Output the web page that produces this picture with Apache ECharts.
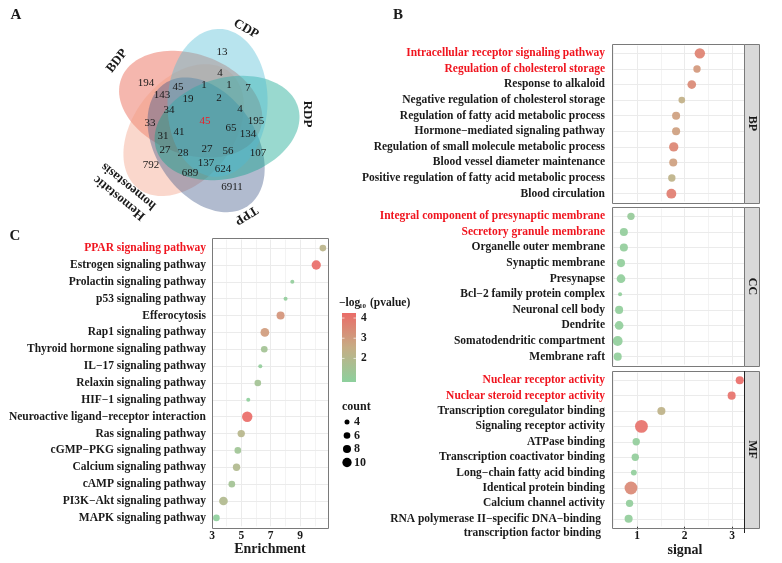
<!DOCTYPE html>
<html><head><meta charset="utf-8">
<script src="https://cdn.jsdelivr.net/npm/echarts@6/dist/echarts.min.js"></script>
<style>html,body{margin:0;padding:0;background:#fff}#main{width:782px;height:563px}</style>
</head><body><div id="main"></div>
<script>
// ---------------- DATA ----------------
// Panel C: KEGG enrichment (top to bottom)
const keggTerms = ['PPAR signaling pathway','Estrogen signaling pathway','Prolactin signaling pathway','p53 signaling pathway','Efferocytosis','Rap1 signaling pathway','Thyroid hormone signaling pathway','IL\u221217 signaling pathway','Relaxin signaling pathway','HIF\u22121 signaling pathway','Neuroactive ligand\u2212receptor interaction','Ras signaling pathway','cGMP\u2212PKG signaling pathway','Calcium signaling pathway','cAMP signaling pathway','PI3K\u2212Akt signaling pathway','MAPK signaling pathway'];
const keggEnrichment = [10.55,10.1,8.47,8.01,7.67,6.6,6.56,6.29,6.12,5.47,5.4,4.99,4.76,4.67,4.35,3.78,3.3];
const keggCount = [6,10,3,3,8,9,6,3,6,3,12,7,6,7,6,9,6];
const keggLogP = [2.2,4.2,1.0,1.0,3.2,3.0,1.5,1.0,1.5,0.9,4.25,2.1,1.4,1.9,1.5,1.9,0.9];

// Panel B: GO terms
const bpTerms = ['Intracellular receptor signaling pathway','Regulation of cholesterol storage','Response to alkaloid','Negative regulation of cholesterol storage','Regulation of fatty acid metabolic process','Hormone\u2212mediated signaling pathway','Regulation of small molecule metabolic process','Blood vessel diameter maintenance','Positive regulation of fatty acid metabolic process','Blood circulation'];
const bpSignal = [2.32,2.26,2.15,1.94,1.82,1.82,1.77,1.76,1.73,1.72];
const bpCount = [12,7,9,6,8,8,10,8,7,11];
const bpLogP = [3.7,3.1,3.5,2.4,2.9,2.9,3.6,2.9,2.3,3.8];

const ccTerms = ['Integral component of presynaptic membrane','Secretory granule membrane','Organelle outer membrane','Synaptic membrane','Presynapse','Bcl\u22122 family protein complex','Neuronal cell body','Dendrite','Somatodendritic compartment','Membrane raft'];
const ccSignal = [0.87,0.72,0.72,0.66,0.66,0.64,0.62,0.62,0.59,0.59];
const ccCount = [7,8,8,8,9,3,8,9,11,8];
const ccLogP = [1.1,1.0,1.0,0.95,0.95,0.95,0.95,0.95,0.95,0.95];

const mfTerms = ['Nuclear receptor activity','Nuclear steroid receptor activity','Transcription coregulator binding','Signaling receptor activity','ATPase binding','Transcription coactivator binding','Long\u2212chain fatty acid binding','Identical protein binding','Calcium channel activity','RNA polymerase II\u2212specific DNA\u2212binding\ntranscription factor binding'];
const mfSignal = [3.16,2.99,1.51,1.09,0.98,0.96,0.93,0.87,0.84,0.82];
const mfCount = [8,8,8,17,7,7,5,17,7,8];
const mfLogP = [4.25,4.1,2.3,4.1,1.0,1.0,0.95,3.5,1.0,1.0];

const highlightedTerms = ['PPAR signaling pathway','Intracellular receptor signaling pathway','Regulation of cholesterol storage','Integral component of presynaptic membrane','Secretory granule membrane','Nuclear receptor activity','Nuclear steroid receptor activity'];
const goFacets = ['BP','CC','MF'];
const signalTicks = [1,2,3];
const enrichTicks = [3,5,7,9];
const countLegend = [4,6,8,10];
const logPTicks = [4,3,2];

// Panel A: Venn
const vennSets = ['CDP','RDP','TPP','Hemostatic\nhomeostasis','BDP'];
const vennCounts = [13,4,1,1,7,194,45,143,19,2,4,34,45,195,33,65,134,41,31,27,28,27,56,107,792,137,624,689,6911];
const vennCoreIndex = 12;

// ---------------- LAYOUT (positions / styles) ----------------
const SERIF = '"Liberation Serif","Times New Roman",serif';
const vennColors = ['#4DBBD5','#00A087','#3C5488','#F39B7F','#E64B35'];
const vennAlpha = 0.4;
const vennGeom = {cx:205, cy:122, theta0:10, mx:9, my:-21, tilt:-8, a:74, b:50};
const vennCountPos = [[222,52],[220,73],[204,85],[229,85],[248,88],[146,83],[178,87],[162,95],[188,99],[219,98],[240,109],[169,110],[205,121],[256,121],[150,123],[231,128],[248,134],[179,132],[163,136],[165,150],[183,153],[207,149],[228,151],[258,153],[151,165],[206,163],[223,169],[190,173],[232,187]];
const vennLabelPos = [[246,29,30],[307,114,90],[246,215,148],[124,192,219],[117,61,-52]];

const colorStops = ['#8dd09d','#c6ad85','#ea6c68'];
const pMin = 0.83, pMax = 4.25;
function sizeOf(c){ return 3.7*Math.sqrt(c) - 2.4; }

const panelC = {left:212, top:238, width:116, height:290};
const panelsB = [
  {left:612, top:44, width:132, height:159},
  {left:612, top:207, width:132, height:159},
  {left:612, top:371, width:132, height:157}
];
const stripW = 15;

function rowsGrid(p, n){
  const pitch = p.height/(n - 1 + 1.2);
  return {left:p.left, top:p.top + pitch*0.1, width:p.width, height:pitch*n};
}

function catData(terms){
  return terms.map(t => {
    const o = {value:t, textStyle:{}};
    if (highlightedTerms.includes(t)) o.textStyle.color = '#f0141e';
    if (t.indexOf('\n') >= 0) o.textStyle.padding = [0,4,0,0];
    return o;
  });
}
function gridLines(major, minor, cats){
  return {
    silent:true, symbol:['none','none'], z:1, animation:false,
    label:{show:false}, emphasis:{disabled:true},
    lineStyle:{color:'#ebebeb', width:1, type:'solid'},
    data:[].concat(
      major.map(v => ({xAxis:v})),
      minor.map(v => ({xAxis:v, lineStyle:{color:'#ebebeb', width:0.6, type:'solid'}})),
      cats.map(c => ({yAxis:c}))
    )
  };
}
function scatterSeries(idx, xs, terms, logp, counts, major, minor){
  return {
    type:'scatter', xAxisIndex:idx, yAxisIndex:idx, z:5,
    data: terms.map((t,i) => [xs[i], t, logp[i], counts[i]]),
    encode:{x:0, y:1},
    symbolSize: v => sizeOf(v[3]),
    itemStyle:{opacity:0.92},
    emphasis:{disabled:true},
    markLine: gridLines(major, minor, terms)
  };
}
const yLabelStyle = {fontFamily:SERIF, fontWeight:'bold', fontSize:11.5, color:'#1a1a1a', lineHeight:14.5};

const grids = [rowsGrid(panelC, keggTerms.length)].concat(panelsB.map((p,i)=>rowsGrid(p, [bpTerms,ccTerms,mfTerms][i].length)));

const xAxes = [
  {gridIndex:0, type:'value', min:3, max:10.9, interval:2,
   axisLine:{show:false}, splitLine:{show:false},
   axisTick:{length:3, lineStyle:{color:'#333'}},
   axisLabel:{showMaxLabel:false, margin:4, fontFamily:SERIF, fontWeight:'bold', fontSize:11.5, color:'#1a1a1a',
     formatter: v => enrichTicks.includes(v) ? String(v) : ''}}
];
for (let i=0;i<3;i++){
  const last = i===2;
  xAxes.push({gridIndex:i+1, type:'value', min:0.47, max:3.25, splitNumber:3, minInterval:1,
    axisLine:{show:false}, splitLine:{show:false},
    axisTick:{show:last, length:3, lineStyle:{color:'#333'}},
    axisLabel:{show:last, showMinLabel:false, showMaxLabel:false, margin:4, fontFamily:SERIF, fontWeight:'bold', fontSize:11.5, color:'#1a1a1a',
      formatter: v => signalTicks.includes(v) ? String(v) : ''}});
}
const yAxes = [[keggTerms,6],[bpTerms,7],[ccTerms,7],[mfTerms,7]].map((d,i)=>({
  gridIndex:i, type:'category', inverse:true, data:catData(d[0]),
  axisLine:{show:false}, splitLine:{show:false},
  axisTick:{alignWithLabel:true, length:3, lineStyle:{color:'#333'}},
  axisLabel:Object.assign({margin:d[1], interval:0,
    formatter: v => v.indexOf('\n') >= 0 ? ' \n' + v : v}, yLabelStyle)
}));

const series = [
  scatterSeries(0, keggEnrichment, keggTerms, keggLogP, keggCount, [3,5,7,9], [4,6,8,10]),
  scatterSeries(1, bpSignal, bpTerms, bpLogP, bpCount, [1,2,3], [0.5,1.5,2.5]),
  scatterSeries(2, ccSignal, ccTerms, ccLogP, ccCount, [1,2,3], [0.5,1.5,2.5]),
  scatterSeries(3, mfSignal, mfTerms, mfLogP, mfCount, [1,2,3], [0.5,1.5,2.5])
];

// ---------------- GRAPHICS ----------------
const g = [];
function txt(x,y,text,font,opts){
  const o = Object.assign({type:'text', x:x, y:y, silent:true, z:50,
    style:{text:text, font:font, fill:'#1a1a1a', textAlign:'center', textVerticalAlign:'middle'}}, opts||{});
  if (opts && opts.style) o.style = Object.assign({text:text, font:font, fill:'#1a1a1a', textAlign:'center', textVerticalAlign:'middle'}, opts.style);
  return o;
}
// Venn ellipses
function ellipsePts(k){
  const G = vennGeom, th = (G.theta0 + 72*k)*Math.PI/180, tl = G.tilt*Math.PI/180;
  const u = [Math.sin(tl), -Math.cos(tl)], v = [Math.cos(tl), Math.sin(tl)];
  const pts = [];
  for (let j=0;j<120;j++){
    const t = j/120*2*Math.PI;
    const px = G.mx + G.a*Math.cos(t)*u[0] + G.b*Math.sin(t)*v[0];
    const py = G.my + G.a*Math.cos(t)*u[1] + G.b*Math.sin(t)*v[1];
    pts.push([G.cx + px*Math.cos(th) - py*Math.sin(th), G.cy + px*Math.sin(th) + py*Math.cos(th)]);
  }
  return pts;
}
function rgba(hex, a){
  const n = parseInt(hex.slice(1),16);
  return 'rgba('+((n>>16)&255)+','+((n>>8)&255)+','+(n&255)+','+a+')';
}
[4,3,2,1,0].forEach(k => {
  g.push({type:'polygon', silent:true, z:2, shape:{points:ellipsePts(k)}, style:{fill:rgba(vennColors[k], vennAlpha), stroke:'none'}});
});
vennCounts.forEach((c,i) => {
  g.push(txt(vennCountPos[i][0], vennCountPos[i][1], String(c), '11px '+SERIF,
    {style:{fill: i===vennCoreIndex ? '#ee1c25' : '#1a1a1a'}}));
});
vennSets.forEach((s,k) => {
  const p = vennLabelPos[k];
  g.push(txt(p[0], p[1], s, 'bold 13px '+SERIF, {rotation:-p[2]*Math.PI/180, style:{lineHeight:15}}));
});
// panel letters
g.push(txt(16,15,'A','bold 15px '+SERIF));
g.push(txt(398,15,'B','bold 15px '+SERIF));
g.push(txt(15,236,'C','bold 15px '+SERIF));
// panel borders and strips
const borderStyle = {fill:'none', stroke:'#7a7a7a', lineWidth:1};
[panelC].concat(panelsB).forEach(p => {
  g.push({type:'rect', silent:true, z:40, shape:{x:p.left+0.5, y:p.top+0.5, width:p.width, height:p.height}, style:borderStyle});
});
panelsB.forEach((p,i) => {
  g.push({type:'rect', silent:true, z:40, shape:{x:p.left+p.width+0.5, y:p.top+0.5, width:stripW, height:p.height}, style:{fill:'#d9d9d9', stroke:'#7a7a7a', lineWidth:1}});
  g.push(txt(p.left+p.width+stripW/2+1, p.top+p.height/2, goFacets[i], 'bold 12px '+SERIF, {rotation:-Math.PI/2}));
});
g.push({type:'line', silent:true, z:45, shape:{x1:744.5, y1:371, x2:744.5, y2:533}, style:{stroke:'#222', lineWidth:1}});
// axis titles
g.push(txt(685,550,'signal','bold 14px '+SERIF));
g.push(txt(270,549,'Enrichment','bold 14px '+SERIF));
// colour legend
const cb = {x:342, y:313, w:14, h:69};
g.push(txt(339,303,'\u2212log','bold 11.5px '+SERIF,{style:{textAlign:'left'}}));
g.push(txt(359,306,'10','bold 7px '+SERIF,{style:{textAlign:'left'}}));
g.push(txt(370,303,'(pvalue)','bold 11.5px '+SERIF,{style:{textAlign:'left'}}));
g.push({type:'rect', silent:true, z:30, shape:{x:cb.x, y:cb.y, width:cb.w, height:cb.h},
  style:{fill:{type:'linear', x:0, y:0, x2:0, y2:1, colorStops:[{offset:0,color:colorStops[2]},{offset:0.5,color:colorStops[1]},{offset:1,color:colorStops[0]}]}}});
logPTicks.forEach(v => {
  const y = cb.y + (pMax - v)/(pMax - pMin)*cb.h;
  g.push({type:'line', silent:true, z:31, shape:{x1:cb.x, y1:y, x2:cb.x+2.5, y2:y}, style:{stroke:'rgba(255,255,255,0.8)', lineWidth:0.8}});
  g.push({type:'line', silent:true, z:31, shape:{x1:cb.x+cb.w-2.5, y1:y, x2:cb.x+cb.w, y2:y}, style:{stroke:'rgba(255,255,255,0.8)', lineWidth:0.8}});
  g.push(txt(361, y, String(v), 'bold 11.5px '+SERIF, {style:{textAlign:'left'}}));
});
// size legend
g.push(txt(342,407,'count','bold 12px '+SERIF,{style:{textAlign:'left'}}));
countLegend.forEach((c,i) => {
  const y = 422 + i*13.5;
  g.push({type:'circle', silent:true, z:30, shape:{cx:347, cy:y, r:sizeOf(c)/2}, style:{fill:'#000'}});
  g.push(txt(354, y, String(c), 'bold 12px '+SERIF, {style:{textAlign:'left'}}));
});

const option = {
  animation:false,
  backgroundColor:'#fff',
  textStyle:{fontFamily:SERIF},
  grid: grids,
  xAxis: xAxes,
  yAxis: yAxes,
  visualMap: {type:'continuous', show:false, seriesIndex:[0,1,2,3], dimension:2, min:pMin, max:pMax,
    inRange:{color:colorStops}},
  series: series,
  graphic: {elements: g}
};
const chart = echarts.init(document.getElementById('main'));
chart.setOption(option);
</script></body></html>
